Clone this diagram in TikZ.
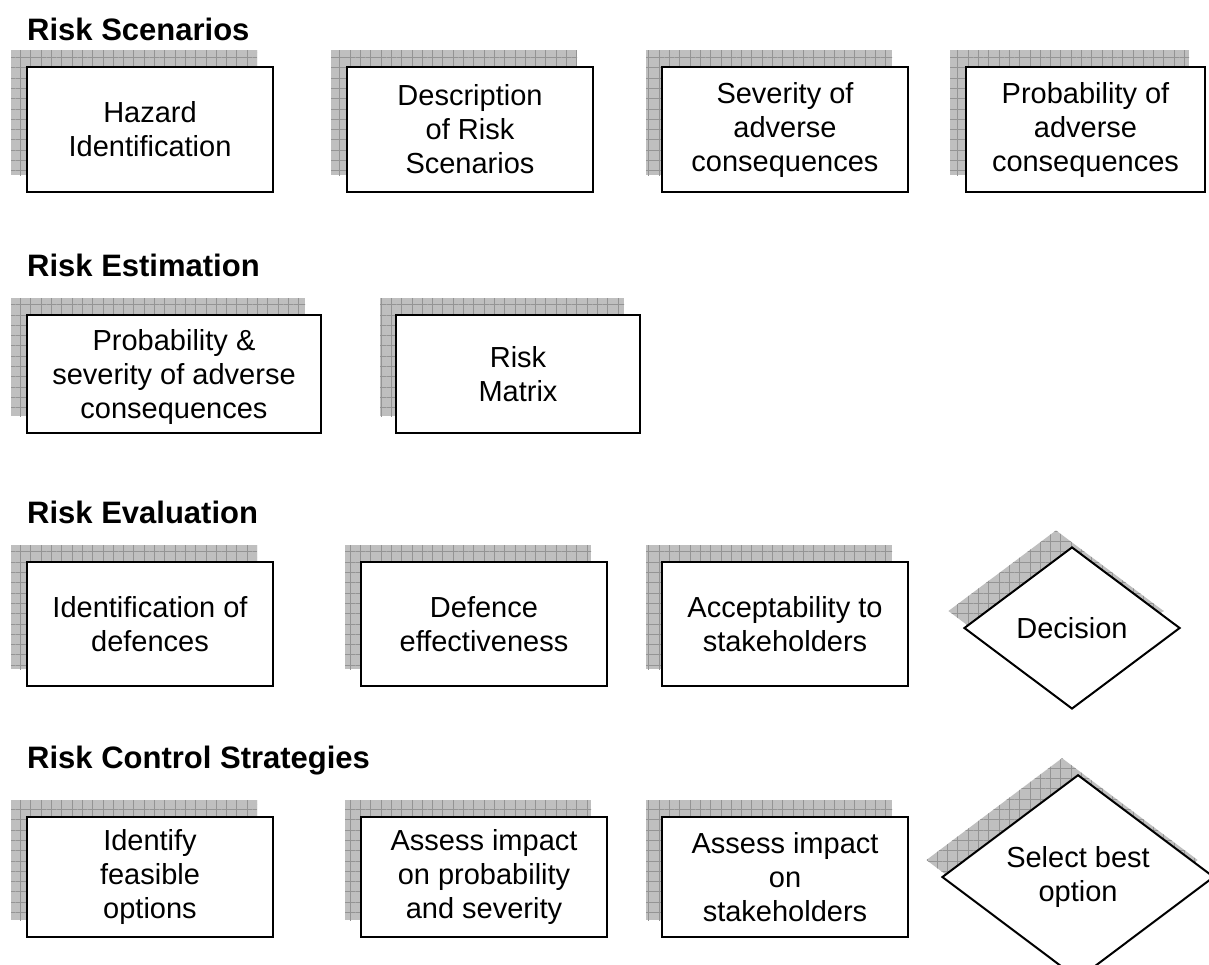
\documentclass[tikz,border=0pt]{standalone}
\usepackage{fontspec}
\setmainfont{Liberation Sans}
\usetikzlibrary{shapes.geometric, patterns.meta}

% grey grid shadow, shifted up and to the left
\tikzset{
  shade back/.style={
    preaction={draw=none, fill=black!25, transform canvas={shift={(-16pt,17pt)}}},
    preaction={draw=none, pattern={Hatch[angle=0, distance=10.3pt, line width=1pt]},
               pattern color=black!42, transform canvas={shift={(-16pt,17pt)}}}
  }
}

\begin{document}
\begin{tikzpicture}[x=1pt, y=-1pt,
    every node/.style={font=\fontsize{29}{34}\selectfont}, % body text
    stagetitle/.style={anchor=base west, inner sep=0pt, font=\bfseries\fontsize{31}{36}\selectfont},
    riskbox/.style={rectangle, draw, line width=2pt, fill=white, shade back, align=center, inner sep=0pt},
    choice/.style={diamond, draw, line width=2pt, fill=white, shade back, align=center, inner sep=0pt}
    ]

    \fill[white] (0,0) rectangle (1209,964);
    \useasboundingbox (0,0) rectangle (1209,964);

    % Risk Scenarios
    \node[stagetitle] (scen) at (27,40) {Risk Scenarios};
    \node[riskbox, minimum width=246, minimum height=125] (hazard) at (150,129.5) {Hazard\\Identification};
    \node[riskbox, minimum width=246, minimum height=125] (descr) at (470,129.5) {Description\\of Risk\\Scenarios};
    \node[riskbox, minimum width=246, minimum height=125] (sever) at (785,129.5) {Severity of\\adverse\\consequences};
    \node[riskbox, minimum width=239, minimum height=125] (prob) at (1085.5,129.5) {Probability of\\adverse\\consequences};

    % Risk Estimation
    \node[stagetitle] (estim) at (27,276) {Risk Estimation};
    \node[riskbox, minimum width=294, minimum height=118, text depth=0pt] (probsev) at (174,374) {Probability \&\\severity of adverse\\consequences};
    \node[riskbox, minimum width=244, minimum height=118] (matrix) at (518,374) {Risk\\Matrix};

    % Risk Evaluation
    \node[stagetitle] (evalu) at (27,523) {Risk Evaluation};
    \node[riskbox, minimum width=246, minimum height=124] (defid) at (150,624) {Identification of\\defences};
    \node[riskbox, minimum width=246, minimum height=124] (defeff) at (484,624) {Defence\\effectiveness};
    \node[riskbox, minimum width=246, minimum height=124] (accept) at (785,624) {Acceptability to\\stakeholders};
    \node[choice, minimum width=216, minimum height=162] (decide) at (1072,628) {Decision};

    % Risk Control Strategies
    \node[stagetitle] (control) at (27,768) {Risk Control Strategies};
    \node[riskbox, minimum width=246, minimum height=120] (feasible) at (150,877) {Identify\\feasible\\options};
    \node[riskbox, minimum width=246, minimum height=120] (impact) at (484,877) {Assess impact\\on probability\\and severity};
    \node[riskbox, minimum width=246, minimum height=120] (stake) at (785,877) {Assess impact\\on\\stakeholders};
    \node[choice, minimum width=272, minimum height=180] (select) at (1078,877) {Select best\\option};

\end{tikzpicture}
\end{document}
